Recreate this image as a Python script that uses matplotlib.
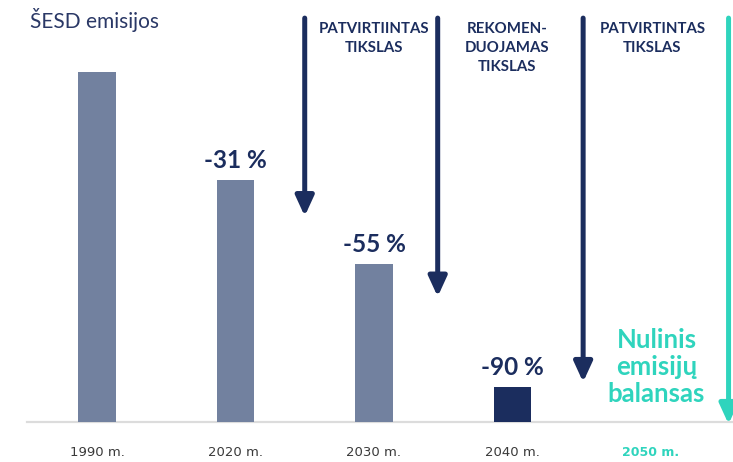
import matplotlib
matplotlib.use("Agg")
import matplotlib.pyplot as plt

# Emission levels relative to 1990 (= 100)
years = ["1990 m.", "2020 m.", "2030 m.", "2040 m.", "2050 m."]
levels = [100, 69, 45, 10]
change_labels = [None, "-31 %", "-55 %", "-90 %"]

# Target arrows: horizontal slot, level where the arrow tip ends, header text
arrow_slots = [1.50, 2.46, 3.51, 4.56]
arrow_tips = [58.8, 35.8, 11.4, -0.6]
arrow_titles = ["PATVIRTIINTAS\nTIKSLAS", "REKOMEN-\nDUOJAMAS\nTIKSLAS",
                "PATVIRTINTAS\nTIKSLAS", None]

NAVY = "#1b2d5e"
BAR_GREY = "#72819f"
TEAL = "#2fd4bd"
FONT = ["Lato", "DejaVu Sans"]

fig = plt.figure(figsize=(7.33, 4.62), dpi=100)
ax = fig.add_axes([0, 0, 1, 1])
ax.set_xlim(-0.700, 4.592)
ax.set_ylim(-11.43, 120.57)
ax.axis("off")

# baseline
ax.plot([-0.505, 4.592], [0, 0], color="#dcdcdc", lw=1.6, zorder=1)

bar_colors = [BAR_GREY, BAR_GREY, BAR_GREY, NAVY]
xs = range(len(levels))
ax.bar(xs, levels, width=0.27, color=bar_colors, zorder=2)

for x, v, lab in zip(xs, levels, change_labels):
    if lab:
        ax.text(x, v + 2.4, lab, ha="center", va="bottom", fontsize=17.5,
                fontweight="bold", color=NAVY, family=FONT)

# year labels under the baseline
for i, y in enumerate(years):
    last = i == len(years) - 1
    ax.text(i, -8.6, y, ha="center", va="center",
            fontsize=9.5 if not last else 9,
            fontweight="bold" if last else "normal",
            color=TEAL if last else "#3a3a3a",
            family=["Liberation Sans Narrow", "DejaVu Sans"])

top = 115.4
for i, (sx, tip, title) in enumerate(zip(arrow_slots, arrow_tips, arrow_titles)):
    col = TEAL if i == len(arrow_slots) - 1 else NAVY
    ax.annotate("", xy=(sx, tip), xytext=(sx, top),
                arrowprops=dict(arrowstyle="-|>,head_length=1.2,head_width=0.55",
                                mutation_scale=10, lw=3.6, color=col,
                                shrinkA=0, shrinkB=0))
    if title:
        ax.text(sx + 0.5, 114.3, title, ha="center", va="top", fontsize=10.8,
                fontweight="bold", color=NAVY, family=FONT, linespacing=1.45)

ax.text(4.04, 15.6, "Nulinis\nemisijų\nbalansas", ha="center", va="center",
        fontsize=18.5, fontweight="bold", color=TEAL, family=FONT,
        linespacing=1.15)

fig.text(30 / 733, 1 - 20 / 462, "ŠESD emisijos", ha="left", va="center",
         fontsize=15, color="#2a3866", family=FONT)

fig.savefig("out.png", dpi=100, facecolor="white")
